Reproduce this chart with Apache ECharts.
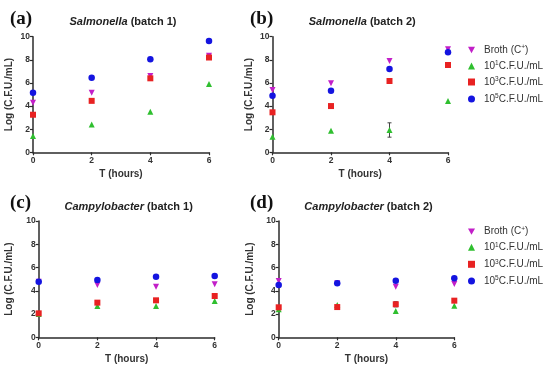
<!DOCTYPE html>
<html><head><meta charset="utf-8">
<script src="https://cdn.jsdelivr.net/npm/echarts@6/dist/echarts.min.js"></script>
<style>html,body{margin:0;padding:0;background:#fff}#c{width:550px;height:370px}</style>
</head><body><div id="c"></div>
<script>
// ---- data ----
var times = [0, 2, 4, 6];
var seriesNames = ['Broth', '10^1', '10^3', '10^5'];
var legendLabels = ['Broth (C{sup|+})', '10{sup|1}C.F.U./mL', '10{sup|3}C.F.U./mL', '10{sup|5}C.F.U./mL'];
var panelTitles = ['Salmonella|(batch 1)', 'Salmonella|(batch 2)', 'Campylobacter|(batch 1)', 'Campylobacter|(batch 2)'];
var panelLetters = ['(a)', '(b)', '(c)', '(d)'];
var yTicks = [0, 2, 4, 6, 8, 10];
var xTicks = [0, 2, 4, 6];

// Panel a: Salmonella batch 1
var aBroth = [4.29, 5.16, 6.6, 8.35];
var a1 = [1.4, 2.4, 3.5, 5.9];
var a3 = [3.25, 4.45, 6.4, 8.2];
var a5 = [5.16, 6.45, 8.04, 9.63];
// Panel b: Salmonella batch 2
var bBroth = [5.39, 5.97, 7.9, 8.91];
var b1 = [1.35, 1.87, 1.93, 4.44];
var b1Err = [0, 0, 0.62, 0];
var b3 = [3.46, 4.0, 6.17, 7.55];
var b5 = [4.9, 5.33, 7.2, 8.65];
// Panel c: Campylobacter batch 1
var cBroth = [4.78, 4.5, 4.35, 4.56];
var c1 = [2.0, 2.69, 2.69, 3.12];
var c3 = [2.06, 2.98, 3.18, 3.55];
var c5 = [4.78, 4.93, 5.21, 5.27];
// Panel d: Campylobacter batch 2
var dBroth = [4.84, 4.64, 4.35, 4.58];
var d1 = [2.41, 2.78, 2.26, 2.72];
var d3 = [2.58, 2.6, 2.84, 3.15];
var d3Err = [0, 0, 0.22, 0];
var d5 = [4.5, 4.64, 4.87, 5.07];

var panels = [
  [aBroth, a1, a3, a5],
  [bBroth, b1, b3, b5],
  [cBroth, c1, c3, c5],
  [dBroth, d1, d3, d5]
];
var panelErrs = [
  [null, null, null, null],
  [null, b1Err, null, null],
  [null, null, null, null],
  [null, null, d3Err, null]
];

// ---- styles ----
var colors = ['#c21fc8', '#2fbf2f', '#e82222', '#1414e0'];
var symbols = ['path://M0,0L10,0L5,9Z', 'triangle', 'rect', 'circle'];
var symSizes = [6, 6, 6, 6.5];
var grids = [
  {left: 33, top: 36.7, width: 176, height: 115.6},
  {left: 272.5, top: 36.7, width: 175.5, height: 115.6},
  {left: 38.7, top: 221, width: 176, height: 116.3},
  {left: 278.7, top: 221, width: 175.6, height: 116.3}
];
var nameGaps = [19, 18.5, 24, 23.7];
var font = 'Liberation Sans, Arial, sans-serif';
var axisCol = '#2b2b2b';

var option = {
  animation: false,
  backgroundColor: '#fff',
  grid: grids.map(function (g) { return Object.assign({containLabel: false}, g); }),
  xAxis: [], yAxis: [], series: [], title: [], legend: []
};

grids.forEach(function (g, i) {
  option.xAxis.push({
    gridIndex: i, type: 'value', min: 0, max: 6, interval: 2,
    name: 'T (hours)', nameLocation: 'middle', nameGap: 17,
    nameTextStyle: {fontFamily: font, fontWeight: 'bold', fontSize: 10, color: '#333'},
    axisLine: {lineStyle: {color: axisCol, width: 1.5}},
    axisTick: {show: true, length: 3, lineStyle: {color: axisCol, width: 1.2}},
    axisLabel: {fontFamily: font, fontWeight: 'bold', fontSize: 8.5, color: '#333', margin: 4,
      formatter: function (v) { return xTicks.indexOf(v) >= 0 ? String(v) : ''; }},
    splitLine: {show: false}
  });
  option.yAxis.push({
    gridIndex: i, type: 'value', min: 0, max: 10, interval: 2,
    name: 'Log (C.F.U./mL)', nameLocation: 'middle', nameGap: nameGaps[i], nameRotate: 90,
    nameTextStyle: {fontFamily: font, fontWeight: 'bold', fontSize: 10, color: '#333'},
    axisLine: {show: true, lineStyle: {color: axisCol, width: 1.5}},
    axisTick: {show: true, length: 3, lineStyle: {color: axisCol, width: 1.2}},
    axisLabel: {fontFamily: font, fontWeight: 'bold', fontSize: 8.5, color: '#333', margin: 3,
      formatter: function (v) { return yTicks.indexOf(v) >= 0 ? String(v) : ''; }},
    splitLine: {show: false}
  });

  var tparts = panelTitles[i].split('|');
  var cx = g.left + g.width / 2 - 3;
  option.title.push({
    text: '{it|' + tparts[0] + '}{b| ' + tparts[1] + '}',
    left: cx, top: g.top - 25, textAlign: 'center',
    textStyle: {rich: {
      it: {fontFamily: font, fontStyle: 'italic', fontWeight: 'bold', fontSize: 11, color: '#222'},
      b: {fontFamily: font, fontWeight: 'bold', fontSize: 11, color: '#222'}
    }}
  });
  option.title.push({
    text: panelLetters[i],
    left: (i % 2 === 0) ? 5 : 245, top: g.top - 32,
    textStyle: {fontFamily: 'Liberation Serif, Times New Roman, serif', fontWeight: 'bold', fontSize: 19, color: '#111'}
  });

  var data = panels[i];
  seriesNames.forEach(function (nm, k) {
    var vals = data[k];
    option.series.push({
      type: 'scatter', name: nm, xAxisIndex: i, yAxisIndex: i,
      symbol: symbols[k], symbolSize: symSizes[k],
      itemStyle: {color: colors[k], opacity: 1},
      data: times.map(function (t, j) { return [t, vals[j]]; }),
      z: 3
    });
    var errs = panelErrs[i][k];
    if (errs) {
      option.series.push({
        type: 'custom', xAxisIndex: i, yAxisIndex: i, z: 2,
        data: times.map(function (t, j) { return [t, vals[j], errs[j]]; }).filter(function (d) { return d[2] > 0; }),
        renderItem: function (params, api) {
          var x = api.value(0), y = api.value(1), e = api.value(2);
          var p1 = api.coord([x, y + e]), p2 = api.coord([x, y - e]);
          var st = {stroke: '#444', lineWidth: 1};
          return {type: 'group', children: [
            {type: 'line', shape: {x1: p1[0], y1: p1[1], x2: p2[0], y2: p2[1]}, style: st},
            {type: 'line', shape: {x1: p1[0] - 2, y1: p1[1], x2: p1[0] + 2, y2: p1[1]}, style: st},
            {type: 'line', shape: {x1: p2[0] - 2, y1: p2[1], x2: p2[0] + 2, y2: p2[1]}, style: st}
          ]};
        }
      });
    }
  });
});

// legends for panels b and d
var legendRows = [[50, 66, 82, 99], [231.7, 247.3, 264.3, 281]];
legendRows.forEach(function (rows) {
  rows.forEach(function (y, k) {
    option.legend.push({
      data: [seriesNames[k]], orient: 'vertical', left: 468, top: y - 6,
      itemWidth: 7, itemHeight: 7, itemGap: 0, padding: 0, selectedMode: false,
      formatter: function () { return legendLabels[k]; },
      textStyle: {fontFamily: font, fontSize: 10, color: '#333', padding: [0, 0, 0, 4],
        rich: {sup: {fontFamily: font, fontSize: 6.5, color: '#333', verticalAlign: 'top', padding: [0, 0, 5, 0]}}}
    });
  });
});

var chart = echarts.init(document.getElementById('c'), null, {renderer: 'canvas'});
chart.setOption(option);
</script></body></html>
